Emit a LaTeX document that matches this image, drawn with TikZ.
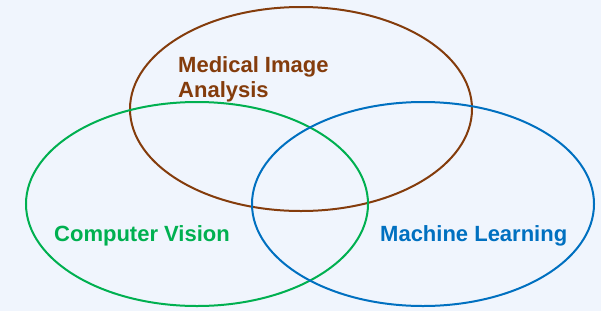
\documentclass[tikz,border=0pt]{standalone}
\usepackage{fontspec}
\setmainfont{Liberation Sans}
\definecolor{bgc}{HTML}{F0F5FD}
\definecolor{brn}{HTML}{843C0C}
\definecolor{grn}{HTML}{00B050}
\definecolor{blu}{HTML}{0070C0}
\begin{document}
\begin{tikzpicture}[x=1pt,y=-1pt,
  ring/.style={line width=2pt},
  lbl/.style={inner sep=0pt,anchor=base west,font=\fontsize{22}{25}\selectfont\bfseries}]
\fill[bgc] (0,0) rectangle (601,311);
\useasboundingbox (0,0) rectangle (601,311);
\draw[ring,brn] (301,109) ellipse [x radius=171, y radius=102];
\draw[ring,grn] (197,204) ellipse [x radius=171, y radius=102];
\draw[ring,blu] (423,204) ellipse [x radius=171, y radius=102];
\node[lbl,text=brn] (mia1) at (178,72) {Medical Image};
\node[lbl,text=brn] (mia2) at (178,97) {Analysis};
\node[lbl,text=grn] (cv) at (54,241) {Computer Vision};
\node[lbl,text=blu] (ml) at (380,241) {Machine Learning};
\end{tikzpicture}
\end{document}
